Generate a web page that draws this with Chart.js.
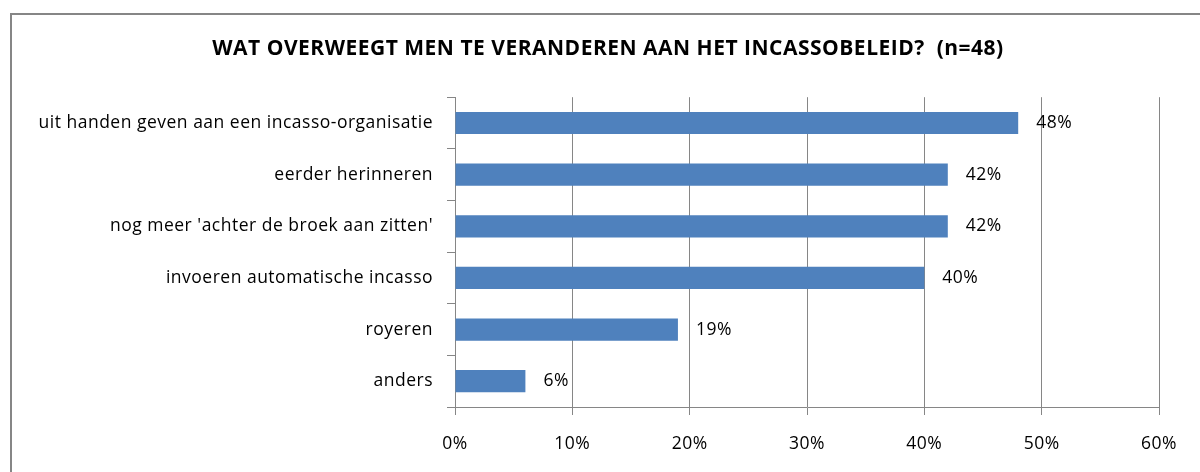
<!DOCTYPE html>
<html>
<head>
<meta charset="utf-8">
<script src="https://cdn.jsdelivr.net/npm/chart.js@4.4.0/dist/chart.umd.min.js"></script>
<style>
    body { margin: 0; background: #fff; }
    canvas { display: block; }
</style>
</head>
<body>
<canvas id="incasso-chart" width="1200" height="472"></canvas>
<script>

var categories = [
    "uit handen geven aan een incasso-organisatie",
    "eerder herinneren",
    "nog meer 'achter de broek aan zitten'",
    "invoeren automatische incasso",
    "royeren",
    "anders"
];
var percentages = [48, 42, 42, 40, 19, 6];
var chartTitle = "WAT OVERWEEGT MEN TE VERANDEREN AAN HET INCASSOBELEID?  (n=48)";

var gridColor = "#868686";
var labelFont = { family: "'Open Sans', sans-serif", size: 17.5 };

// grey frame around the whole chart, plus the slightly wide text spacing
var framePlugin = {
    id: "frame",
    afterLayout: function (chart) {
        // let the long category label run past the layout padding instead of being clipped
        chart.scales.y.left = 0;
    },
    beforeDraw: function (chart) {
        var ctx = chart.ctx;
        ctx.save();
        ctx.fillStyle = "#ffffff";
        ctx.fillRect(0, 0, chart.width, chart.height);
        ctx.strokeStyle = gridColor;
        ctx.lineWidth = 2;
        ctx.strokeRect(11, 14, 1200, 500);
        ctx.restore();
        ctx.letterSpacing = "0.5px";
    }
};

// percentage labels next to each bar
var valueLabels = {
    id: "valueLabels",
    afterDatasetsDraw: function (chart) {
        var ctx = chart.ctx;
        var meta = chart.getDatasetMeta(0);
        ctx.save();
        ctx.font = labelFont.size + "px " + labelFont.family;
        ctx.fillStyle = "#000000";
        ctx.textAlign = "left";
        ctx.textBaseline = "middle";
        meta.data.forEach(function (bar, i) {
            ctx.fillText(percentages[i] + "%", bar.x + 18, bar.y);
        });
        ctx.restore();
    }
};

new Chart(document.getElementById("incasso-chart"), {
    type: "bar",
    data: {
        labels: categories,
        datasets: [{
            data: percentages,
            backgroundColor: "#4F81BD",
            borderWidth: 0,
            categoryPercentage: 1,
            barPercentage: 0.43
        }]
    },
    options: {
        indexAxis: "y",
        responsive: false,
        animation: false,
        layout: {
            padding: { left: 57, right: 41, top: 0, bottom: 0 }
        },
        scales: {
            x: {
                min: 0,
                max: 60,
                ticks: {
                    stepSize: 10,
                    color: "#000000",
                    font: labelFont,
                    padding: 19,
                    callback: function (value) {
                        return value + "%";
                    }
                },
                grid: {
                    color: gridColor,
                    tickLength: 8
                },
                border: { color: gridColor },
                afterFit: function (scale) {
                    scale.height = 65;
                }
            },
            y: {
                ticks: {
                    color: "#000000",
                    font: labelFont,
                    padding: 14
                },
                grid: {
                    color: gridColor,
                    drawOnChartArea: false,
                    tickLength: 8
                },
                border: { color: gridColor },
                afterFit: function (scale) {
                    scale.width = 398;
                }
            }
        },
        plugins: {
            legend: { display: false },
            tooltip: { enabled: false },
            title: {
                display: true,
                text: chartTitle,
                color: "#000000",
                font: { family: "'Open Sans', sans-serif", size: 21, weight: "bold", lineHeight: 1.2 },
                padding: { top: 36, bottom: 36 }
            }
        }
    },
    plugins: [framePlugin, valueLabels]
});

</script>
</body>
</html>
